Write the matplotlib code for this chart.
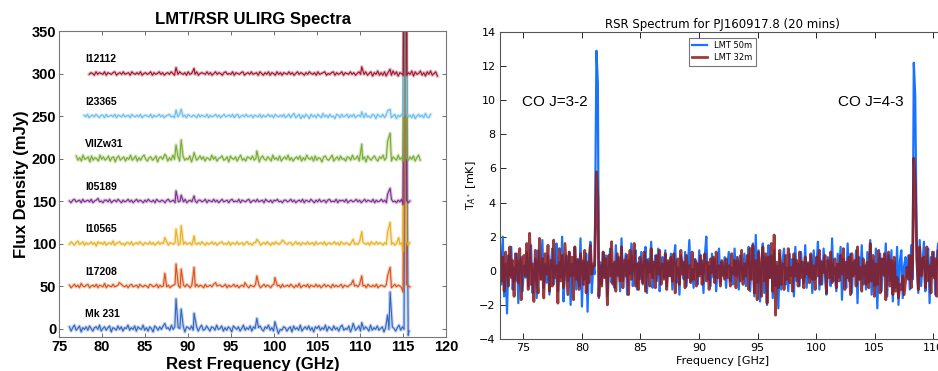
import numpy as np
import matplotlib
matplotlib.use("Agg")
import matplotlib.pyplot as plt

# ---------------- left panel data: stacked ULIRG spectra ----------------
sources = ["Mk 231", "I17208", "I10565", "I05189", "VIIZw31", "I23365", "I12112"]
offsets = [0, 50, 100, 150, 200, 250, 300]
colors = ["#3366c0", "#d95319", "#e8b020", "#7e2f8e", "#77ac30", "#6cbdee", "#a2142f"]
freq_ranges = [(76.2, 115.7), (76.2, 115.8), (76.2, 115.8), (76.2, 115.8),
               (77.0, 117.0), (77.9, 118.2), (78.5, 119.0)]

noise_mk231 = [2, -3, 1, 4, -2, 0, 3, -4, 1, -1, 2, -2, 3, 0, -3, 1, 2, -1, 4, -3, 0, 2, -2, 1, 3,
               -4, 1, 0, -2, 3, -1, 2, -3, 1, 0, 4, -2, 1, -1, 3, -3, 2, 0, -1, 4, -2, 1, -3, 2, 0,
               -4, 3, 1, -2, 2, -1, 3, -3, 0, 1, -2, 4, -1, 2, -3, 1, 0, -2, 3, -4, 2, 1, -1, 3, -2,
               0, 2, -3, 1, 4, -2, -1, 3, 0, -3, 2, 1, -2, 4, -1, 0, 3, -3, 1, -2, 2, 0, -4, 3, 1,
               -1, 2, -3, 0, 4, -2, 1, -1, 3, -3, 2, 0, -2, 1, 3, -1, -3, 2, 0, 4, -2, 1, -3, 2, 0,
               3, -1, -2, 2, 1, -3, 0, 2, -4, 3, -1, 1, -2, 4, -3, 0, 2, -1, 3, -2, 1, -4, 2, 0, 3,
               -2, 1, -1, 4, -3, 2, 0, -2, 3, -1, 1, -3, 2, 4, -2, 0, -1, 3, -4, 1, 2, -2, 0, 3, -3,
               1, -1, 2, 0, -3, 4, -2, 1, -1, 3, -2, 0, 2, -4, 1, 3, -1, -2, 2, 0, -3, 1, 4, -2, 2,
               -1, 0, 3, -3]
noise_i17208 = [1, -2, 0, 2, -1, 1, -2, 3, 0, -1, 1, 2, -2, 0, 1, -1, 2, -2, 1, 0, -1, 3, -2, 1, 0,
                -1, 2, -1, 0, 1, -2, 2, 0, -1, 1, -2, 1, 2, -1, 0, 1, -2, 2, 0, -1, 1, 0, -2, 2, 1,
                -1, 0, 2, -2, 1, -1, 0, 2, -1, 1, -2, 0, 1, 2, -1, 0, -2, 1, 1, -1, 2, 0, -2, 1, 0,
                -1, 2, -1, 1, 0, -2, 2, -1, 0, 1, -1, 2, -2, 0, 1, 1, -1, 0, 2, -2, 1, -1, 0, 2, -1,
                1, -2, 0, 1, -1, 2, 0, -2, 1, 0, -1, 2, -1, 1, -2, 0, 2, -1, 1, 0, -2, 1, 2, -1, 0,
                1, -2, 2, -1, 0, 1, -1, 2, 0, -2, 1, -1, 3, -2, 0, 1, -1, 2, -2, 1, 0, -1, 2, -1, 1,
                -2, 0, 2, -1, 1, 0, -2, 2, -1, 1, -1, 0, 2, -2, 1, 0, -1, 1, 2, -2, 0, 1, -1, 2, -1,
                0, 1, -2, 2, 0, -1, 1, -1, 2, -2, 0, 1, 0, -1, 2, -1, 1, -2, 0, 2, -1, 1, 0, -2, 1,
                -1, 2, 0, -1]
noise_i10565 = [-1, 2, 0, -2, 1, 3, -1, 0, 2, -2, 1, -1, 0, 2, -1, 1, -3, 2, 0, 1, -1, 2, -2, 0, 1,
                -1, 3, -2, 0, 1, 2, -1, 0, -2, 1, 1, -1, 2, -2, 0, 1, -1, 2, 0, -2, 1, 0, -1, 2, -1,
                1, -2, 0, 2, -1, 1, 0, -1, 2, -2, 1, 0, -1, 1, 2, -2, 0, 1, -1, 2, -1, 0, 1, -2, 2,
                0, -1, 1, -1, 2, 0, -2, 1, -1, 0, 2, -1, 1, -2, 0, 1, 2, -1, 0, -1, 2, -2, 1, 0, -1,
                2, -1, 0, 1, -2, 1, 2, -1, 0, -2, 1, 1, -1, 2, -2, 0, 1, -1, 2, 0, -2, 1, -1, 2, 0,
                -1, 1, -2, 2, 0, -1, 1, 1, -2, 0, 2, -1, 1, -2, 1, 0, -1, 2, -1, 0, 1, -2, 2, -1, 0,
                1, -1, 2, -2, 0, 1, -1, 0, 2, -1, 1, -2, 2, 0, -1, 1, 0, -2, 1, 2, -1, 0, -1, 2, -2,
                1, 0, -1, 1, -2, 2, 0, -1, 2, -1, 1, 0, -2, 1, -1, 2, 0, -1, 1, -2, 0, 2, -1, 1, -1,
                0, 2, -2, 1]
noise_i05189 = [0, -2, 1, 2, -1, 0, 1, -2, 2, -1, 0, 1, -1, 2, -2, 0, 1, 3, -1, 0, -2, 1, 1, -1, 2,
                -2, 0, 1, -1, 2, 0, -2, 1, -1, 0, 2, -1, 1, -2, 0, 2, -1, 1, 0, -2, 1, -1, 2, 0, -1,
                1, -2, 2, 0, -1, 1, 0, -2, 1, 2, -1, 0, 1, -2, 2, -1, 0, 1, -1, 2, -2, 0, 1, -1, 2,
                0, -2, 1, 1, -1, 0, 2, -2, 1, 0, -1, 2, -1, 1, -2, 0, 2, -1, 0, 1, -2, 1, 2, -1, 0,
                -1, 2, -2, 1, 0, -1, 1, 2, -2, 0, 1, -1, 2, -1, 0, 1, -2, 2, 0, -1, 1, -2, 1, 0, 2,
                -1, 0, -2, 1, 1, -1, 0, 2, -1, 1, -2, 0, 1, -1, 2, -2, 1, 0, -1, 2, 0, -2, 1, -1, 2,
                -1, 0, 1, -2, 1, 2, -1, 0, -1, 2, -2, 1, 0, 1, -1, 2, -2, 0, 1, -1, 0, 2, -1, 1, -2,
                0, 2, -1, 1, 0, -1, 2, -2, 1, -1, 0, 2, -1, 1, -2, 0, 1, 2, -1, 0, -2, 1, -1, 2, 0,
                -1, 1, -2, 0]
noise_viizw31 = [3, -2, 1, -3, 4, -1, 0, 2, -4, 3, -2, 1, 0, -3, 4, -1, 2, -2, 0, 3, -3, 1, 2, -4, 1,
                 3, -2, 0, 2, -3, 1, -1, 4, -2, 0, 3, -3, 1, -2, 2, 4, -1, -3, 1, 2, -2, 0, 3, -4, 1,
                 2, -1, 0, 3, -3, 1, -2, 4, -1, 0, 2, -3, 1, 3, -2, 0, -1, 3, -4, 2, 1, -2, 0, 3, -1,
                 2, -3, 1, 0, -2, 4, -1, 2, -3, 0, 1, 3, -2, -1, 2, -4, 3, 0, -1, 2, -3, 1, 4, -2, 0,
                 -3, 2, 1, -1, 3, -2, 0, 2, -4, 1, 3, -1, -2, 2, 0, -3, 4, -1, 1, -2, 3, -3, 0, 2, -1,
                 4, -2, 1, -3, 0, 2, -1, 3, -3, 1, -2, 4, 0, -1, 2, -3, 3, -2, 1, 0, -4, 2, 3, -1, -2,
                 1, 4, -3, 0, 2, -2, 3, -1, 0, -3, 2, 1, -2, 4, -1, 0, 3, -3, 1, -1, 2, -4, 3, 0, -2,
                 1, 3, -1, -3, 2, 0, 4, -2, 1, -1, 3, -3, 2, 0, -2, 4, -1, 1, -3, 3, 0, -2, 2, -1, 3,
                 -3, 1, 4, -2]
noise_i23365 = [1, -1, 2, -2, 0, 1, -1, 2, 0, -2, 1, 1, -2, 2, -1, 0, 1, -1, 2, -2, 1, 0, -1, 2, -1,
                0, 1, -2, 2, 0, -1, 1, -1, 2, -2, 0, 1, 0, -1, 2, -2, 1, -1, 0, 2, -1, 1, -2, 0, 1,
                2, -1, 0, -2, 1, -1, 2, 0, -1, 1, -2, 2, 0, -1, 1, 0, -2, 2, -1, 1, 0, -1, 2, -2, 1,
                -1, 0, 2, -1, 1, -2, 0, 2, -1, 0, 1, -1, 2, -2, 1, 2, -2, 0, 1, -1, 2, -1, 0, 1, -2,
                1, 0, -1, 2, -2, 1, -1, 0, 2, -1, 1, -2, 2, 0, -1, 1, -1, 2, -2, 0, 2, -2, 1, 3, -2,
                0, 2, -3, 1, -2, 2, 0, -3, 2, -1, 1, -2, 2, 0, -2, 3, -1, 1, -2, 2, -1, 0, -3, 2, 1,
                -2, 2, -1, 0, 2, -2, 1, -1, 2, -2, 0, 1, -1, 2, -2, 3, -1, 0, -2, 2, 1, -3, 2, 0, -1,
                2, -2, 1, -1, 3, -2, 0, 2, -3, 1, -1, 2, 0, -2, 3, -1, 1, -2, 2, -3, 0, 2, -1, 1, -2,
                3, -1, -2, 2]
noise_i12112 = [-1, 1, 0, -2, 2, -1, 1, 0, -1, 2, -2, 1, 0, -1, 1, 2, -2, 0, 1, -1, 2, -1, 0, 1, -2,
                2, 0, -1, 1, -1, 2, -2, 0, 1, -1, 0, 2, -2, 1, -1, 0, 2, -1, 1, -2, 0, 1, -1, 2, 0,
                -2, 1, -1, 2, 0, -1, 1, -2, 2, -1, 0, 1, -1, 2, -2, 0, 1, 0, -1, 2, -1, 1, -2, 0, 2,
                -1, 1, 0, -2, 1, 2, -1, 0, -1, 2, -2, 1, 0, -1, 1, 2, -2, 0, 1, -1, 2, -1, 0, 1, -2,
                2, 0, -2, 1, -1, 2, -2, 1, 0, -2, 2, -1, 1, -2, 1, 0, -1, 2, -1, 1, -2, 0, 2, -1, 1,
                0, -2, 1, -1, 2, 0, -1, 1, -2, 2, -1, 0, 1, 2, -2, 0, -1, 1, 2, -2, 1, -1, 0, 2, -2,
                1, 0, -1, 2, -1, 1, -2, 0, 2, -1, 1, -1, 2, -2, 0, 2, -3, 1, -1, 3, -2, 1, -2, 2, -3,
                1, 0, -2, 3, -1, 2, -3, 1, 0, -2, 3, -2, 1, -1, 3, -3, 2, -1, 0, 3, -2, 1, -3, 2, -1,
                3, -2, 0, 2, -3]
noises = [noise_mk231, noise_i17208, noise_i10565, noise_i05189,
          noise_viizw31, noise_i23365, noise_i12112]

# (rest frequency GHz, line height above baseline mJy)
lines_mk231 = [(87.3, 6), (88.6, 35), (89.2, 23), (90.7, 18), (98.0, 12), (100.1, 8),
               (100.5, -6), (109.2, 6), (110.2, 7), (113.2, 16), (113.5, 43), (115.3, 450),
               (115.6, -8)]
lines_i17208 = [(82.0, 4), (87.3, 15), (88.6, 26), (89.2, 20), (90.7, 22), (93.2, 4), (96.6, 4),
                (98.0, 12), (100.1, 10), (109.2, 7), (110.2, 12), (113.2, 12), (113.5, 22),
                (115.0, -7), (115.3, 450)]
lines_i10565 = [(87.3, 7), (88.6, 17), (89.2, 21), (90.7, 9), (98.0, 5), (101.0, 4), (109.2, 5),
                (110.2, 14), (113.2, 13), (113.5, 25), (114.5, 7), (115.0, -9), (115.3, 450)]
lines_i05189 = [(88.6, 12), (89.2, 7), (90.7, 6), (113.2, 8), (113.5, 15), (115.0, -4),
                (115.3, 450)]
lines_viizw31 = [(87.3, 5), (88.6, 16), (89.2, 22), (90.7, 7), (98.0, 9), (110.2, 17),
                 (113.2, 20), (113.5, 30), (115.3, 450)]
lines_i23365 = [(88.6, 7), (89.2, 8), (110.2, 5), (113.2, 6), (113.5, 8), (115.3, 450)]
lines_i12112 = [(88.6, 7), (90.7, 6), (110.2, 8), (113.5, 5), (115.3, 450)]
line_lists = [lines_mk231, lines_i17208, lines_i10565, lines_i05189,
              lines_viizw31, lines_i23365, lines_i12112]

# ---------------- right panel data: PJ160917.8 ----------------
rsr_range = (73.0, 111.5)
blue_noise = [
    1.2, -0.8, 2.0, -1.5, 0.4, -2.5, 0.9, -0.3, 1.4, -1.1, 0.2, -0.6, 1.0, -1.9, 0.5, 0.8, -1.2, 0.3, -0.4, 1.1,
    -0.9, 0.6, 1.5, -1.3, -0.2, 0.7, -1.6, 1.2, 0.1, -0.5, 1.8, -1.0, 0.4, -0.7, 0.9, -1.4, 0.3, 1.3, -0.8, 0.0,
    1.6, -1.2, 0.5, -0.4, 2.0, -1.8, 0.2, 0.9, -0.6, 1.1, -2.0, 0.4, -0.3, 1.4, -1.1, 0.7, -0.9, 1.9, -2.1, 0.6,
    -0.5, 1.0, -2.4, 0.8, 1.7, -1.3, 0.3, -0.2, 0.0, 1.2, -1.6, 0.5, -0.8, 1.1, -0.4, 0.9, -1.5, 0.2, 1.3, -0.7,
    0.4, -1.0, 1.5, -0.3, 0.8, -1.2, 1.9, -0.6, 0.2, 1.0, -1.4, 0.6, -0.2, 1.6, -0.9, 0.3, 1.2, -1.1, 0.5, -0.5,
    1.1, -0.8, 0.4, 1.4, -1.3, 0.7, -0.1, 1.7, -1.0, 0.3, 0.9, -0.6, 1.3, -1.2, 0.2, 0.8, -0.4, 1.2, -0.9, 0.5,
    -0.3, 1.0, -1.1, 0.6, 1.5, -0.7, 0.2, -1.4, 0.9, 0.4, -0.5, 1.1, -0.9, 0.3, 1.8, -0.6, 0.1, -1.0, 0.7, 0.5,
    -0.8, 1.2, -0.2, 0.6, -1.3, 0.9, 2.0, -0.5, 0.3, -0.9, 1.0, -0.4, 0.7, -1.2, 0.2, 1.3, -0.7, 0.5, -0.3, 0.8,
    -1.0, 0.4, 1.1, -0.6, 0.2, -0.8, 1.3, -0.3, 0.6, -1.1, 0.9, 0.1, -0.5, 1.0, -0.9, 0.5, 1.4, -1.2, 0.3, 1.6,
    -1.5, 2.1, -0.7, 1.2, -1.8, 0.4, 1.6, -1.3, 0.8, -2.0, 1.5, -0.4, 0.9, -1.6, 1.2, -0.9, 0.3, -2.2, 1.0, -1.1,
    0.6, 1.3, -0.8, 0.2, -1.2, 1.0, -0.3, 0.7, -1.5, 1.4, -0.6, 0.4, -0.9, 1.1, 0.0, -0.7, 1.5, -1.0, 0.5, -0.4,
    0.9, -1.3, 1.2, -0.5, 0.3, 1.7, -1.1, 0.6, -0.8, 1.3, -0.2, -1.4, 0.8, 0.4, -0.9, 1.9, -0.6, 0.2, -1.2, 1.0,
    -0.4, 1.4, -1.7, 0.7, 0.3, -1.0, 1.6, -0.6, 1.0, -1.3, 0.5, -0.2, 1.2, -1.9, 0.8, -0.5, 1.5, -0.8, 0.3, -1.1,
    1.1, -0.7, 1.8, -1.4, 0.6, -0.9, 1.3, -2.2, 0.4, 1.0, -1.2, 0.7, -0.3, 1.6, -1.5, 0.9, -0.6, 1.2, -1.8, 0.5,
    -1.0, 1.4, -2.0, 0.6, 1.2, -1.6, 0.3, 0.8, -0.4, 0.9, -1.1, 1.5, -0.5, 1.0, -2.1, 0.7, -1.3, 1.8, -0.9, 0.4,
    1.7, -1.2, 0.4, 1.3, -1.9, 0.8, -0.3, 1.1, -1.4, 0.6, 1.6, -1.0, 0.2, -1.7, 0.9, -0.5, 1.2, -0.8, 0.4, -1.3,
]
red_noise = [
    1.5, -0.6, 0.8, -1.2, 1.1, 0.2, -0.9, 1.4, -0.4, 0.6, -1.5, 1.0, 0.3, -0.7, 1.3, -1.7, 0.5, 0.9, -0.3, 1.6,
    -1.1, 2.2, -0.8, 0.4, -1.8, 1.2, 0.0, -1.3, 1.9, -0.5, 0.7, -1.6, 1.0, -0.2, 1.5, -1.2, 0.6, -0.9, 1.8, -0.4,
    0.3, -1.9, 1.3, -0.6, 0.9, -1.0, 1.6, 0.1, -1.4, 1.1, -0.3, 0.8, -1.7, 1.4, -0.5, 0.6, -1.1, 1.0, 0.2, -0.8,
    1.2, -1.3, 0.5, -0.7, 1.5, -0.2, 0.4, 0.3, -0.6, 0.8, -1.5, 0.3, -0.9, 1.1, -0.4, 0.7, -2.0, 0.9, -0.3, 1.7,
    -0.8, 0.5, -1.2, 1.0, 0.2, -0.6, 1.4, -1.0, 0.6, -0.3, 0.9, -1.4, 1.2, -0.5, 0.3, 1.6, -0.9, 0.4, -1.1, 0.8,
    0.1, -0.7, 1.1, -1.2, 0.6, 0.3, -0.9, 1.3, -0.4, 0.5, -1.0, 0.9, -0.2, 1.2, -0.8, 0.4, -0.5, 1.0, -1.1, 0.6,
    -0.3, 0.8, -0.6, 1.0, -1.3, 0.4, 0.7, -0.8, 1.2, -0.2, 0.5, -1.0, 0.9, -0.4, 0.3, -0.7, 1.1, -0.5, 0.6, -0.9,
    0.4, -0.3, 0.9, -0.8, 0.2, 1.0, -0.6, 0.5, -1.1, 0.7, -0.1, 0.8, -0.7, 1.1, -0.4, 0.3, -0.9, 0.6, 0.0, -0.5,
    0.7, -0.4, 0.3, -0.9, 1.0, -0.2, 0.6, -1.0, 0.8, 0.1, -0.6, 1.2, -0.8, 0.4, -0.3, 0.9, -1.1, 1.3, -0.5, 1.5,
    -1.3, 0.6, -1.7, 1.1, 0.2, -1.5, 1.4, -0.6, 1.0, -1.9, 0.8, -0.4, 1.6, -1.2, 2.1, -2.6, 0.5, -1.0, 1.2, -0.8,
    0.4, -1.1, 0.9, -0.5, 1.3, -0.7, 0.2, -1.2, 1.0, -0.3, 0.6, -0.9, 1.1, -0.4, 0.5, -1.0, 0.8, -0.2, 0.4, -0.7,
    1.0, -0.5, 0.3, -1.1, 0.8, -0.3, 1.2, -0.8, 0.5, -0.1, 0.9, -1.3, 0.6, -0.4, 1.1, -0.7, 0.2, 0.7, -1.0, 0.4,
    -0.6, 0.9, -0.2, 1.3, -1.1, 0.5, -0.4, 0.8, -1.4, 1.0, -0.3, 0.6, -0.9, 1.4, -0.5, 0.2, -1.2, 0.7, 0.3, -0.8,
    0.5, -1.0, 1.6, -0.6, 0.9, -1.5, 0.4, -0.8, 1.2, -1.3, 0.7, -0.2, 1.0, -1.7, 0.3, 1.1, -0.9, 0.6, -1.4, 0.8,
    -1.2, -0.4, -1.6, -0.8, -1.1, -0.3, -1.4, -0.6, 0.2, -0.5, 0.9, -1.0, 0.4, 1.2, -0.7, 0.6, -1.1, 1.4, -0.3, 0.7,
    0.8, -1.0, 1.4, -0.6, 0.3, -1.3, 1.1, -0.4, 0.7, -1.5, 1.2, 0.2, -0.8, 1.6, -0.9, 0.5, -1.1, 0.9, -0.3, 0.6,
]
# CO lines (GHz, mK)
blue_lines = [(81.24, 12.9), (81.36, 11.0), (108.34, 12.2), (108.46, 10.3)]
red_lines = [(81.24, 5.8), (81.36, 4.3), (108.34, 6.6), (108.46, 5.2)]


def build_spectrum(f0, f1, noise, lines, base=0.0):
    x = np.linspace(f0, f1, len(noise))
    y = base + np.array(noise, dtype=float)
    for f, h in lines:
        i = np.argmin(np.abs(x - f))
        x[i] = f
        y[i] = base + h
    return x, y


fig = plt.figure(figsize=(9.38, 3.71), dpi=100)

# ---------------- left panel ----------------
ax1 = fig.add_axes([0.063, 0.0916, 0.4125, 0.8248])
for name, off, col, (f0, f1), nz, ln in zip(sources, offsets, colors, freq_ranges,
                                            noises, line_lists):
    x, y = build_spectrum(f0, f1, nz, ln, base=off)
    ax1.plot(x, y, color=col, lw=2.4, alpha=0.3, solid_joinstyle="round")
    ax1.plot(x, y, color=col, lw=0.8)
    ax1.text(78.0, off + 17, name, fontsize=7.5, fontweight="bold",
             family="Liberation Sans", va="center", ha="left")
ax1.set_xlim(75, 120)
ax1.set_ylim(-10, 350)
ax1.set_xticks(range(75, 121, 5))
ax1.set_yticks(range(0, 351, 50))
ax1.tick_params(direction="in", top=True, right=True, length=3, width=0.6, color="#555555",
                labelsize=10.5, pad=2)
for lab in ax1.get_xticklabels() + ax1.get_yticklabels():
    lab.set_fontweight("bold")
    lab.set_family("Liberation Sans")
for sp in ax1.spines.values():
    sp.set_color("#777777")
    sp.set_linewidth(0.8)
ax1.set_title("LMT/RSR ULIRG Spectra", fontsize=12, fontweight="bold",
              family="Liberation Sans", pad=5)
ax1.set_ylabel("Flux Density (mJy)", fontsize=12, fontweight="bold",
               family="Liberation Sans", labelpad=2)
ax1.set_xlabel("Rest Frequency (GHz)", fontsize=12, fontweight="bold",
               family="Liberation Sans", labelpad=2)

# ---------------- right panel ----------------
ax2 = fig.add_axes([0.533, 0.0863, 0.4744, 0.8274])
xb, yb = build_spectrum(rsr_range[0], rsr_range[1], blue_noise, blue_lines)
xr, yr = build_spectrum(rsr_range[0], rsr_range[1], red_noise, red_lines)
ax2.plot(xb, yb, color="#1a73ff", lw=1.6, label="LMT 50m")
ax2.plot(xr, yr, color="#8b1a1a", lw=2.0, alpha=0.85, label="LMT 32m")
ax2.set_xlim(73, 111)
ax2.set_ylim(-4, 14)
ax2.set_xticks(range(75, 111, 5))
ax2.set_yticks(range(-4, 15, 2))
ax2.tick_params(direction="in", top=True, right=True, length=4, width=0.6, labelsize=8,
                pad=3)
for sp in ax2.spines.values():
    sp.set_color("#555555")
ax2.set_title("RSR Spectrum for PJ160917.8 (20 mins)", fontsize=8.5, pad=3)
ax2.set_xlabel("Frequency [GHz]", fontsize=8, labelpad=2)
ax2.set_ylabel("T$_{A^*}$ [mK]", fontsize=8, labelpad=1)
ax2.text(74.9, 9.9, "CO J=3-2", fontsize=11, family="Liberation Sans", va="center")
ax2.text(101.9, 9.9, "CO J=4-3", fontsize=11, family="Liberation Sans", va="center")
leg = ax2.legend(loc="upper center", bbox_to_anchor=(0.5, 0.995), fontsize=6,
                 fancybox=False, edgecolor="#555555", handlelength=1.8, borderpad=0.4,
                 labelspacing=0.4)
leg.get_frame().set_linewidth(0.8)

fig.savefig("out.png", dpi=100)
